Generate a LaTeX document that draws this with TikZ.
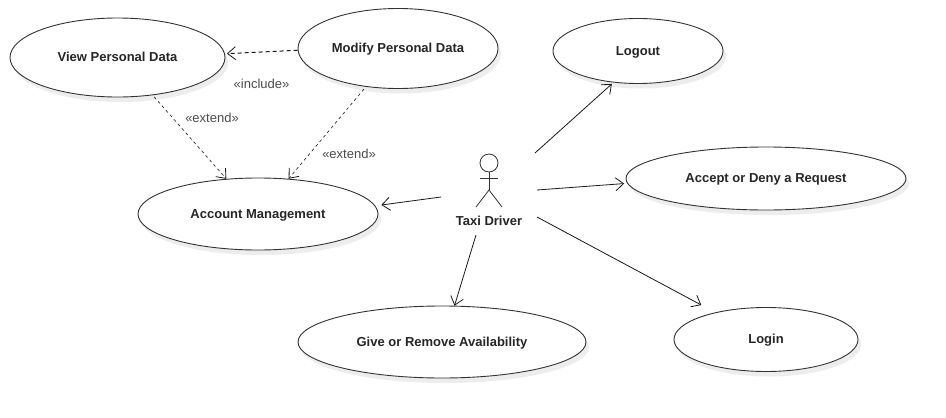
\documentclass[tikz,border=0pt]{standalone}
\usepackage{fontspec}
\setmainfont{Liberation Sans}
\usetikzlibrary{shapes.geometric,arrows.meta,shadows}
\tikzset{
  usecase/.style={ellipse,draw=black!80,line width=0.9pt,fill=white,inner sep=0pt,
    font=\bfseries\fontsize{13}{15}\selectfont,text=black!85,text height=8.5pt,text depth=0pt,
    drop shadow={shadow xshift=3pt,shadow yshift=-5pt,fill=black!7,opacity=1}},
  assoc/.style={draw=black!90,line width=0.8pt,-{Straight Barb[length=8pt,width=13pt,line width=0.8pt]}},
  dep/.style={assoc,line width=0.6pt,dash pattern=on 3pt off 3pt},
  depthick/.style={assoc,line width=1pt,dash pattern=on 4pt off 3pt},
  stereo/.style={font=\fontsize{13}{15}\selectfont,text=black!70,inner sep=0pt},
  limb/.style={draw=black!80,line width=0.8pt},
  actorname/.style={font=\bfseries\fontsize{13}{15}\selectfont,text=black!85,inner sep=0pt},
}
\begin{document}
\begin{tikzpicture}[x=1pt,y=-1pt]
\useasboundingbox[fill=white] (0,0) rectangle (946,418);
\node[usecase,minimum width=215pt,minimum height=79pt] (view) at (117.5,57.5) {View Personal Data};
\node[usecase,minimum width=200pt,minimum height=80pt] (modify) at (398,48.5) {Modify Personal Data};
\node[usecase,minimum width=170pt,minimum height=65pt] (logout) at (638,51) {Logout};
\node[usecase,minimum width=280pt,minimum height=63pt] (accept) at (766,178.5) {Accept or Deny a Request};
\node[usecase,minimum width=240pt,minimum height=72pt] (account) at (258,214) {Account Management};
\node[usecase,minimum width=288pt,minimum height=72pt] (give) at (442,342) {Give or Remove Availability};
\node[usecase,minimum width=184pt,minimum height=64pt] (login) at (766,339.5) {Login};
% actor
\node[circle,draw=black!80,line width=0.8pt,minimum size=18pt,inner sep=0pt] (head) at (489,163) {};
\coordinate (hip) at (489,190);
\coordinate (armL) at (480,178.5);
\coordinate (armR) at (498,178.5);
\coordinate (footL) at (476,207);
\coordinate (footR) at (502,207);
\draw[limb] (head.south) -- (hip);
\draw[limb] (armL) -- (armR);
\draw[limb] (footL) -- (hip) -- (footR);
\node[actorname] (driver) at (489,220.5) {Taxi Driver};
% free ends at the actor
\coordinate (toLogout) at (535,153);
\coordinate (toAccept) at (537,190);
\coordinate (toLogin) at (537,217);
\coordinate (toGive) at (476,235);
\coordinate (toAccount) at (441,197);
% connectors
\draw[assoc,shorten >=2pt] (toLogout) -- (logout.-128);
\draw[assoc,shorten >=3pt] (toAccept) -- (accept.182.4);
\draw[assoc,shorten >=15.6pt] (toLogin) -- (login.152);
\draw[assoc] (toGive) -- (give.71.6);
\draw[assoc,shorten >=6pt] (toAccount) -- (account.4.7);
\draw[depthick,shorten >=2pt] (modify.181.7) -- (view.2.4);
\draw[dep,shorten <=2pt] (view.-47) -- (account.132.5);
\draw[dep,shorten <=3pt] (modify.-130.5) -- (account.49);
% labels
\node[stereo] (l1) at (261.5,84) {«include»};
\node[stereo] (l2) at (212,117.5) {«extend»};
\node[stereo] (l3) at (349,153.5) {«extend»};
\end{tikzpicture}
\end{document}
